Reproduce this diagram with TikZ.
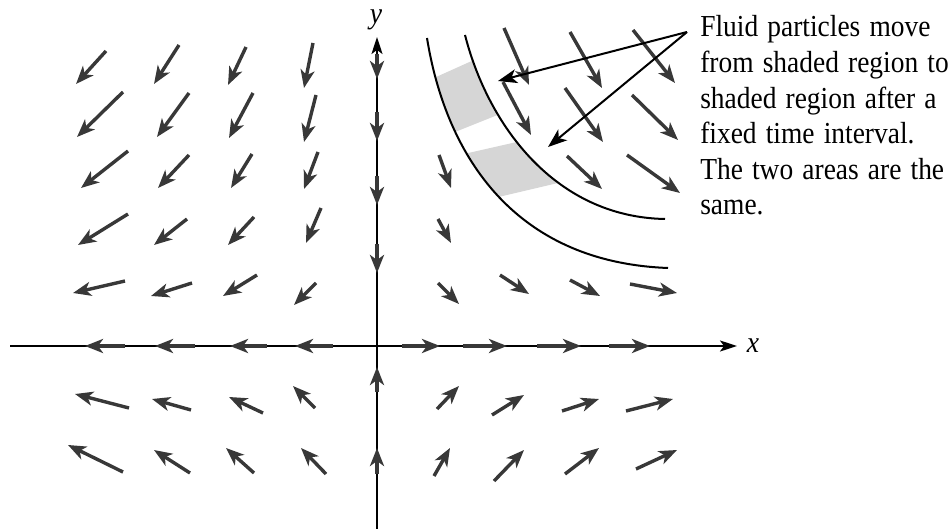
\documentclass[tikz,border=0pt]{standalone}
\usepackage{fontspec}
\setmainfont{Liberation Serif}
\usetikzlibrary{arrows.meta}

\begin{document}
\begin{tikzpicture}[
    x = 1pt, y = -1pt, % pixel units, y grows downwards
    > = {Stealth[length=18pt, width=14pt, inset=5pt]}, % arrow head style
    semithick % line style
]
\tikzstyle{vec}=[->, draw = black!78, line width = 3.4pt]
\tikzstyle{axis}=[draw = black, line width = 1.8pt,
    -{Stealth[length=17pt, width=11pt, inset=4pt]}]
\tikzstyle{stream}=[draw = black, line width = 2pt]
\tikzstyle{note}=[draw = black, line width = 2pt,
    -{Stealth[length=19pt, width=14pt, inset=5pt]}]
\tikzstyle{lbl}=[font = \fontsize{30}{30}\selectfont\itshape, inner sep = 0pt,
    xscale = 0.92, transform shape]

\useasboundingbox (0,0) rectangle (952,529);

\begin{scope}
\clip (427,38) .. controls (445,150) and (510,262) .. (668,268)
    -- (665,219) .. controls (555,217) and (488,125) .. (465,35) -- cycle;
\fill[black!16] (425,82) -- (485,55) -- (515,108) -- (445,136) -- cycle;
\fill[black!16] (455,156) -- (530,139) -- (575,179) -- (490,199) -- cycle;
\end{scope}

\draw[stream] (427,38) .. controls (445,150) and (510,262) .. (668,268);
\draw[stream] (465,35) .. controls (488,125) and (555,217) .. (665,219);

\node[lbl, anchor = base] (x) at (753,352) {x};
\node[lbl, anchor = base] (y) at (376,24) {y};
\coordinate (xa) at (10,346);
\coordinate (xb) at (737,346);
\coordinate (ya) at (377,529);
\coordinate (yb) at (377,37);
\draw[axis] (xa) -- (xb);
\draw[axis] (ya) -- (yb);

\draw[vec] (402,346) -- (440,346);
\draw[vec] (463,346) -- (507,346);
\draw[vec] (537,346) -- (581,346);
\draw[vec] (609,346) -- (650,346);
\draw[vec] (125,346) -- (85,346);
\draw[vec] (195,346) -- (155,346);
\draw[vec] (267,346) -- (230,346);
\draw[vec] (333,346) -- (295,346);
\draw[vec] (377,54) -- (377,79);
\draw[vec] (377,112) -- (377,141);
\draw[vec] (377,176) -- (377,205);
\draw[vec] (377,244) -- (377,273);
\draw[vec] (377,392) -- (377,367);
\draw[vec] (377,474) -- (377,448);

\draw[vec] (106,51) -- (76,84);
\draw[vec] (179,45) -- (154,84);
\draw[vec] (246,47) -- (228,85);
\draw[vec] (313,43) -- (304,88);
\draw[vec] (123,92) -- (77,137);
\draw[vec] (189,93) -- (157,137);
\draw[vec] (253,93) -- (229,138);
\draw[vec] (316,95) -- (304,142);
\draw[vec] (128,151) -- (81,188);
\draw[vec] (189,155) -- (158,188);
\draw[vec] (252,154) -- (231,188);
\draw[vec] (318,152) -- (304,189);
\draw[vec] (128,214) -- (78,245);
\draw[vec] (187,219) -- (154,245);
\draw[vec] (254,217) -- (228,245);
\draw[vec] (321,208) -- (306,243);
\draw[vec] (125,281) -- (73,293);
\draw[vec] (192,283) -- (151,296);
\draw[vec] (257,275) -- (223,296);
\draw[vec] (316,283) -- (294,305);

\draw[vec] (504,28) -- (529,85);
\draw[vec] (570,32) -- (602,88);
\draw[vec] (633,30) -- (675,83);
\draw[vec] (503,82) -- (531,135);
\draw[vec] (565,88) -- (603,142);
\draw[vec] (632,95) -- (678,140);
\draw[vec] (439,155) -- (451,188);
\draw[vec] (567,156) -- (602,189);
\draw[vec] (627,155) -- (680,193);
\draw[vec] (438,219) -- (451,243);
\draw[vec] (438,283) -- (459,304);
\draw[vec] (500,275) -- (529,294);
\draw[vec] (570,280) -- (600,296);
\draw[vec] (630,284) -- (677,293);

\draw[vec] (129,408) -- (75,394);
\draw[vec] (191,410) -- (152,399);
\draw[vec] (263,413) -- (229,397);
\draw[vec] (315,408) -- (293,386);
\draw[vec] (123,472) -- (68,445);
\draw[vec] (190,473) -- (154,450);
\draw[vec] (254,473) -- (226,448);
\draw[vec] (326,474) -- (301,448);

\draw[vec] (437,409) -- (459,386);
\draw[vec] (492,415) -- (524,395);
\draw[vec] (562,411) -- (599,399);
\draw[vec] (626,411) -- (673,399);
\draw[vec] (434,476) -- (450,448);
\draw[vec] (494,481) -- (524,450);
\draw[vec] (565,474) -- (599,448);
\draw[vec] (636,469) -- (677,450);

\node[anchor = base west, inner sep = 0pt, text width = 300pt, align = left,
    font = \fontsize{30.5}{35.6}\selectfont, xscale = 0.9, transform shape] (t) at (700,37)
    {Fluid particles move\\ from shaded region to\\ shaded region after a\\ fixed time interval.\\ The two areas are the\\ same.};
\coordinate (s) at (687,32);
\coordinate (p) at (498,81);
\coordinate (q) at (548,147);
\draw[note] (s) -- (p);
\draw[note] (s) -- (q);

\end{tikzpicture}
\end{document}
